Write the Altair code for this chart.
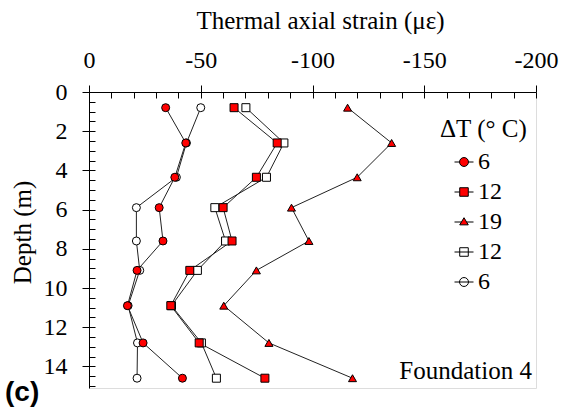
import altair as alt
import pandas as pd

# ---- data ----
depth = [0.8, 2.6, 4.35, 5.9, 7.6, 9.1, 10.9, 12.8, 14.6]
heat_6 = [-34.3, -43.3, -38.4, -31.4, -33.1, -21.5, -17.2, -24.2, -41.8]
heat_12 = [-64.9, -84.2, -74.9, -60.0, -64.0, -45.1, -36.6, -49.3, -78.7]
heat_19 = [-115.7, -135.4, -120.0, -90.6, -98.4, -74.9, -60.3, -80.5, -117.9]
cool_12 = [-70.2, -87.2, -79.4, -56.3, -61.1, -48.5, -36.9, -50.3, -57.0]
cool_6 = [-50.0, -43.6, -39.1, -21.2, -21.2, -22.7, -17.5, -21.7, -21.5]

series_keys = ["h6", "h12", "h19", "c12", "c6"]
x_ticks = [0, -50, -100, -150, -200]
y_ticks = [0, 2, 4, 6, 8, 10, 12, 14]

# draw open (cooling) series first so the filled ones sit on top
ordered = [("c6", cool_6), ("c12", cool_12), ("h6", heat_6), ("h12", heat_12), ("h19", heat_19)]
rows = []
for key, vals in ordered:
    for d, v in zip(depth, vals):
        rows.append({"series": key, "depth": d, "strain": v})
df = pd.DataFrame(rows)

FONT = "Liberation Serif, Times New Roman, Times, serif"

xscale = alt.Scale(domain=[-200, 0], reverse=True, nice=False, zero=False)
yscale = alt.Scale(domain=[0, 15.1], reverse=True, nice=False, zero=False)

# major axes on the line layer
lines = alt.Chart(df).mark_line(color="#222222", strokeWidth=1).encode(
    x=alt.X("strain:Q", scale=xscale, axis=alt.Axis(
        orient="top", values=x_ticks, tickSize=7, labelPadding=13,
        labelFont=FONT, labelFontSize=24, labelColor="black",
        labelExpr="datum.value == 0 ? '0' : '-' + abs(datum.value)",
        title="Thermal axial strain (με)", titleFont=FONT, titleFontSize=25,
        titleFontWeight="normal", titleColor="black", titlePadding=15, titleX=231,
        domainColor="black", tickColor="black", grid=False, labelFlush=False)),
    y=alt.Y("depth:Q", scale=yscale, axis=alt.Axis(
        orient="left", values=y_ticks, tickSize=7, labelPadding=15,
        labelFont=FONT, labelFontSize=24, labelColor="black",
        title="Depth (m)", titleFont=FONT, titleFontSize=25,
        titleFontWeight="normal", titleColor="black", titlePadding=8, titleY=140,
        domainColor="black", tickColor="black", grid=False, labelFlush=False)),
    detail="series:N",
    order="depth:Q",
)

# inner (minor) ticks on the point layer
points = alt.Chart(df).mark_point(filled=True, size=64, stroke="black", strokeWidth=1, opacity=1).encode(
    x=alt.X("strain:Q", scale=xscale, axis=alt.Axis(
        orient="top", values=list(range(-200, 1, 10)), tickSize=6, offset=-6,
        labels=False, domain=False, title=None, grid=False, tickColor="black")),
    y=alt.Y("depth:Q", scale=yscale, axis=alt.Axis(
        orient="left", values=[i * 0.5 for i in range(31)], tickSize=6, offset=-6,
        labels=False, domain=False, title=None, grid=False, tickColor="black")),
    shape=alt.Shape("series:N", scale=alt.Scale(
        domain=series_keys, range=["circle", "square", "triangle-up", "square", "circle"]), legend=None),
    fill=alt.Fill("series:N", scale=alt.Scale(
        domain=series_keys, range=["#ff0000", "#ff0000", "#ff0000", "white", "white"]), legend=None),
)

# legend symbols: marker with a short line through it
leg_paths = [
    "M-1,0L-0.47,0M0.47,0L1,0M-0.47,0A0.47,0.47,0,1,1,0.47,0A0.47,0.47,0,1,1,-0.47,0Z",
    "M-1,0L-0.45,0M0.45,0L1,0M-0.45,-0.45L0.45,-0.45L0.45,0.45L-0.45,0.45Z",
    "M-1,0L-0.27,0M0.27,0L1,0M-0.45,0.3L0,-0.45L0.45,0.3Z",
    "M-1,0L1,0M-0.45,-0.45L0.45,-0.45L0.45,0.45L-0.45,0.45Z",
    "M-1,0L1,0M-0.47,0A0.47,0.47,0,1,1,0.47,0A0.47,0.47,0,1,1,-0.47,0Z",
]
leg_cfg = dict(
    title="ΔT (° C)", orient="none", legendX=351, legendY=25, padding=0,
    titleFont=FONT, titleFontSize=25, titleFontWeight="normal", titleColor="black",
    titlePadding=8, labelFont=FONT, labelFontSize=24, labelColor="black",
    labelExpr="substring(datum.label, 1)", symbolSize=361,
    symbolStrokeWidth=1, symbolOffset=12, labelOffset=2, rowPadding=6,
)
legend_layer = alt.Chart(df).transform_filter("false").mark_point(
    filled=True, size=361, strokeWidth=1, opacity=1).encode(
    x=alt.X("strain:Q", scale=xscale, axis=None),
    y=alt.Y("depth:Q", scale=yscale, axis=None),
    shape=alt.Shape("series:N", scale=alt.Scale(domain=series_keys, range=leg_paths),
                    legend=alt.Legend(**leg_cfg)),
    fill=alt.Fill("series:N", scale=alt.Scale(
        domain=series_keys, range=["#ff0000", "#ff0000", "#ff0000", "transparent", "transparent"]),
        legend=alt.Legend(**leg_cfg)),
    stroke=alt.Stroke("series:N", scale=alt.Scale(
        domain=series_keys, range=["black", "black", "black", "black", "black"]),
        legend=alt.Legend(**leg_cfg)),
)

found = alt.Chart(pd.DataFrame({"t": ["Foundation 4"]})).mark_text(
    font=FONT, fontSize=25, align="right", baseline="alphabetic", color="black").encode(
    x=alt.value(443), y=alt.value(287), text="t:N")

panel = alt.Chart(pd.DataFrame({"t": ["(c)"]})).mark_text(
    font="Liberation Sans, Arial, sans-serif", fontSize=28, fontWeight="bold", align="left",
    baseline="alphabetic", color="black").encode(
    x=alt.value(-84), y=alt.value(309), text="t:N")

chart = alt.layer(lines, points, legend_layer, found, panel).resolve_scale(
    shape="independent", fill="independent", stroke="independent"
).resolve_axis(x="independent", y="independent").properties(
    width=447, height=296,
    autosize=alt.AutoSizeParams(type="none"),
    padding={"left": 89, "top": 92, "right": 25, "bottom": 25},
).configure_view(stroke="#333333", strokeWidth=1).configure(background="white")

chart.save("out.html", embed_options={"renderer": "svg", "actions": False})
